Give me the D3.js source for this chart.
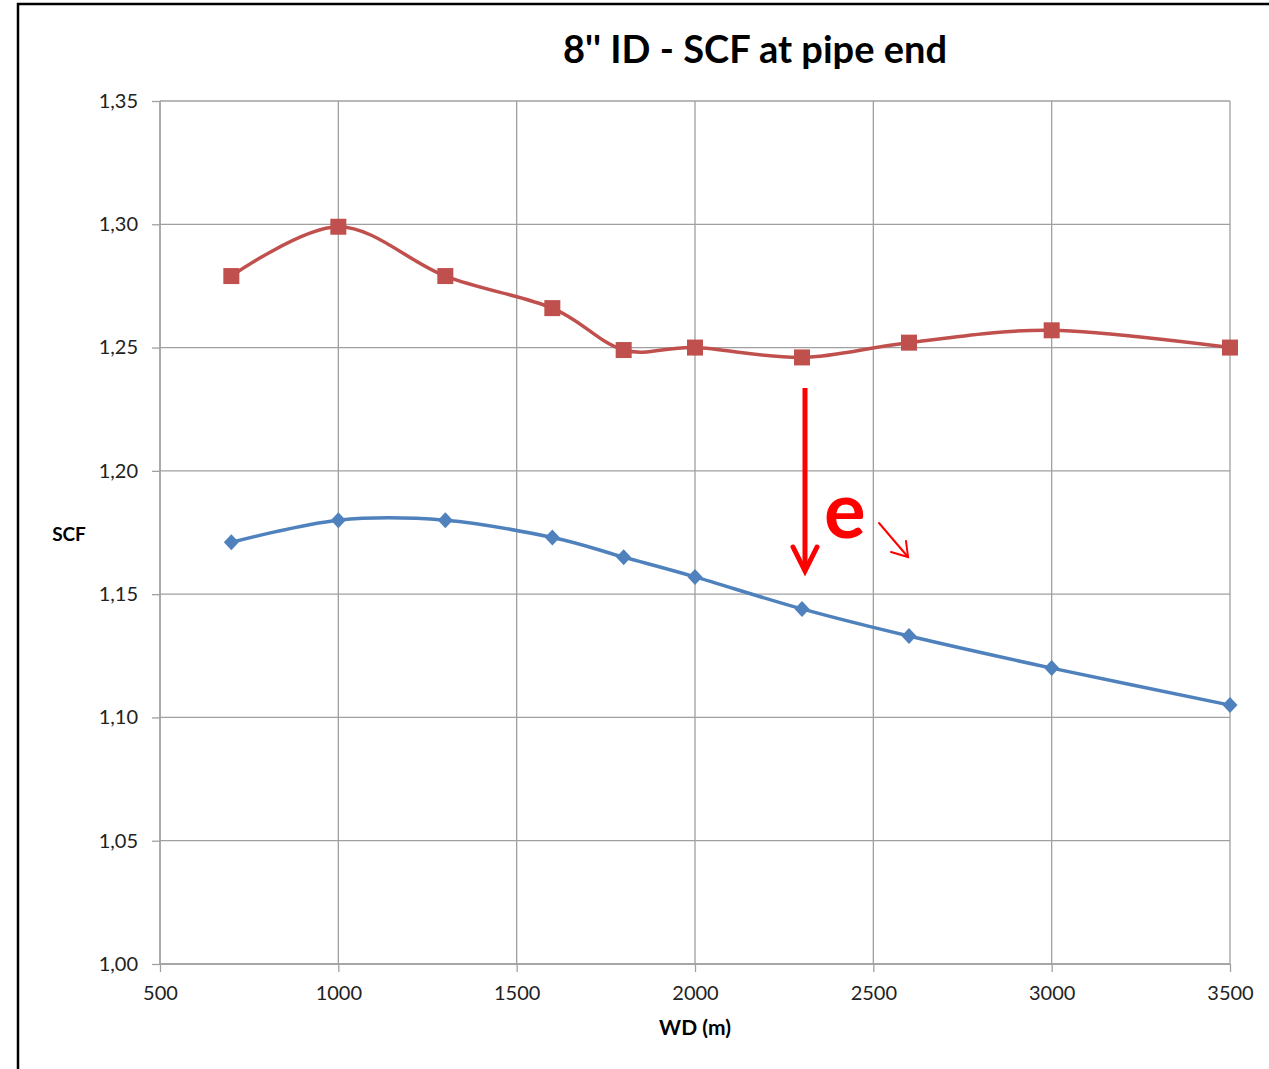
<!DOCTYPE html>
<html>
<head>
<meta charset="utf-8">
<script src="https://cdn.jsdelivr.net/npm/d3@7"></script>
<style>
  html, body { margin: 0; padding: 0; background: #fff; }
  svg { display: block; }
</style>
</head>
<body>
<script>
// data
const wd = [700, 1000, 1300, 1600, 1800, 2000, 2300, 2600, 3000, 3500];
const scfUpper = [1.279, 1.299, 1.279, 1.266, 1.249, 1.250, 1.246, 1.252, 1.257, 1.250];
const scfLower = [1.171, 1.180, 1.180, 1.173, 1.165, 1.157, 1.144, 1.133, 1.120, 1.105];
const xTicks = [500, 1000, 1500, 2000, 2500, 3000, 3500];
const yTicks = [1.00, 1.05, 1.10, 1.15, 1.20, 1.25, 1.30, 1.35];

const width = 1269, height = 1069;
const font = 'Lato, "Open Sans", sans-serif';
const plot = { left: 160, right: 1230, top: 101, bottom: 964 };
const gridColor = '#a0a0a0';

const svg = d3.select('body').append('svg')
  .attr('width', width)
  .attr('height', height);

// outer frame (runs off right and bottom)
svg.append('rect')
  .attr('x', 18).attr('y', 4)
  .attr('width', width + 20).attr('height', height + 20)
  .attr('fill', '#fff')
  .attr('stroke', '#000')
  .attr('stroke-width', 2.5);

const x = d3.scaleLinear().domain([500, 3500]).range([plot.left, plot.right]);
const y = d3.scaleLinear().domain([1.00, 1.35]).range([plot.bottom, plot.top]);

// gridlines
svg.append('g').selectAll('line')
  .data(yTicks).enter().append('line')
    .attr('x1', plot.left).attr('x2', plot.right)
    .attr('y1', d => y(d)).attr('y2', d => y(d))
    .attr('stroke', gridColor).attr('stroke-width', 1.3);
svg.append('g').selectAll('line')
  .data(xTicks).enter().append('line')
    .attr('y1', plot.top).attr('y2', plot.bottom)
    .attr('x1', d => x(d)).attr('x2', d => x(d))
    .attr('stroke', gridColor).attr('stroke-width', 1.3);

// axes
const fmtY = d => d3.format('.2f')(d).replace('.', ',');
const yAxis = svg.append('g')
  .attr('transform', `translate(${plot.left},0)`)
  .call(d3.axisLeft(y).tickValues(yTicks).tickFormat(fmtY).tickSize(8).tickPadding(14));
const xAxis = svg.append('g')
  .attr('transform', `translate(0,${plot.bottom})`)
  .call(d3.axisBottom(x).tickValues(xTicks).tickFormat(d3.format('d')).tickSize(8).tickPadding(14));

[yAxis, xAxis].forEach(a => {
  a.select('.domain').attr('stroke', gridColor).attr('stroke-width', 1.3);
  a.selectAll('.tick line').attr('stroke', gridColor).attr('stroke-width', 1.3);
  a.selectAll('.tick text')
    .style('font-family', font).style('font-size', '20px').attr('fill', '#222');
});
yAxis.select('.domain').attr('d', `M0,${plot.top}V${plot.bottom}`);
xAxis.select('.domain').attr('d', `M${plot.left},0H${plot.right}`);

// series
const line = d3.line()
  .x((d, i) => x(wd[i]))
  .y(d => y(d))
  .curve(d3.curveCardinal.tension(0));

svg.append('path')
  .datum(scfUpper)
  .attr('d', line)
  .attr('fill', 'none')
  .attr('stroke', '#c0504d')
  .attr('stroke-width', 3.5);
svg.append('path')
  .datum(scfLower)
  .attr('d', line)
  .attr('fill', 'none')
  .attr('stroke', '#4f81bd')
  .attr('stroke-width', 3.5);

svg.append('g').selectAll('rect')
  .data(scfUpper).enter().append('rect')
    .attr('x', (d, i) => x(wd[i]) - 8)
    .attr('y', d => y(d) - 8)
    .attr('width', 16).attr('height', 16)
    .attr('fill', '#c0504d');

svg.append('g').selectAll('path')
  .data(scfLower).enter().append('path')
    .attr('d', 'M0,-8L7.5,0L0,8L-7.5,0Z')
    .attr('transform', (d, i) => `translate(${x(wd[i])},${y(d)})`)
    .attr('fill', '#4f81bd');

// title & axis labels
svg.append('text')
  .attr('x', 755).attr('y', 63)
  .attr('text-anchor', 'middle')
  .style('font-family', font).style('font-weight', 'bold').style('font-size', '38px')
  .text("8'' ID - SCF at pipe end");
svg.append('text')
  .attr('x', 69).attr('y', 541)
  .attr('text-anchor', 'middle')
  .style('font-family', font).style('font-weight', 'bold').style('font-size', '19px')
  .text('SCF');
svg.append('text')
  .attr('x', 695).attr('y', 1035)
  .attr('text-anchor', 'middle')
  .style('font-family', font).style('font-weight', 'bold').style('font-size', '21px')
  .text('WD (m)');

// red annotation
const ann = svg.append('g').attr('stroke', '#ff0000').attr('fill', 'none').attr('stroke-linecap', 'round');
ann.append('line')
  .attr('x1', 805).attr('y1', 388).attr('x2', 805).attr('y2', 568)
  .attr('stroke-width', 5).attr('stroke-linecap', 'butt');
ann.append('path')
  .attr('d', 'M793,547L805,571L817,547')
  .attr('stroke-width', 5).attr('stroke-linejoin', 'miter');
ann.append('line')
  .attr('x1', 879).attr('y1', 523).attr('x2', 908).attr('y2', 557)
  .attr('stroke-width', 2);
ann.append('path')
  .attr('d', 'M891,552L908,557L906,541')
  .attr('stroke-width', 2);
svg.append('text')
  .attr('x', 824).attr('y', 538)
  .style('font-family', font).style('font-weight', 'bold').style('font-size', '78px')
  .attr('fill', '#ff0000')
  .text('e');
</script>
</body>
</html>
